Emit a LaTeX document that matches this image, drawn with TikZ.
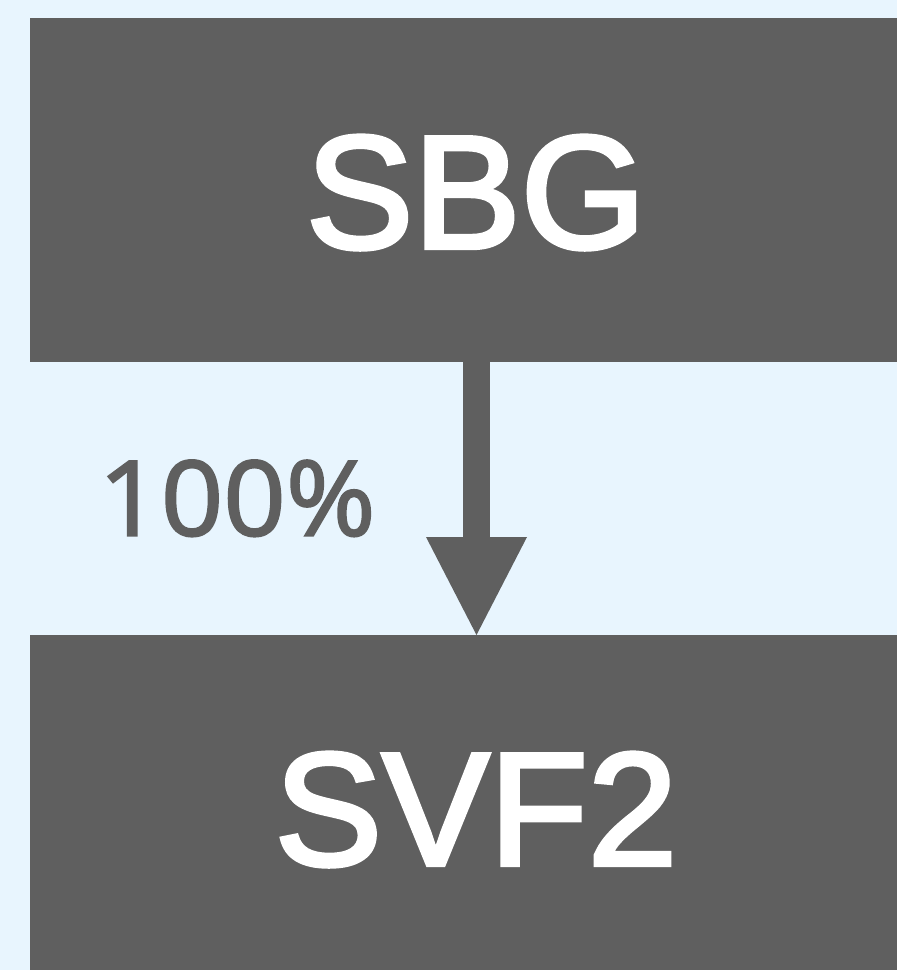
\documentclass[tikz,border=0pt]{standalone}
\usepackage{fontspec}
\setmainfont{Liberation Sans}
\newfontfamily\boxfont[FakeBold=2.7]{Liberation Sans}
\newfontfamily\pctfont[FakeBold=2,FakeStretch=1.05]{Open Sans}
\usetikzlibrary{arrows.meta}
\definecolor{bgblue}{HTML}{E8F5FE}
\definecolor{boxgray}{HTML}{5F5F5F}
\begin{document}
\begin{tikzpicture}[x=1pt,y=-1pt,
  box/.style={fill=boxgray, draw=none, inner sep=0pt, minimum width=867pt},
  boxtext/.style={text=white, font=\boxfont\fontsize{161}{161}\selectfont, anchor=base, inner sep=0pt},
  pct/.style={text=boxgray, font=\pctfont\fontsize{104}{104}\selectfont, anchor=base, inner sep=0pt},
  flow/.style={draw=boxgray, line width=27pt, -{Triangle[width=101pt,length=98pt,line width=0pt]}, fill=boxgray}]
\fill[bgblue] (0,0) rectangle (897,970);
\useasboundingbox (0,0) rectangle (897,970);
\node[box, minimum height=343.5pt] (sbg) at (463.5,189.75) {};
\node[box, minimum height=335pt] (svf) at (463.5,802.5) {};
\node[boxtext] (sbgt) at (476,248) {SBG};
\node[boxtext] (svft) at (476,865) {SVF2};
\coordinate (a1) at (476.5,361.5);
\coordinate (a2) at (476.5,635);
\draw[flow] (a1) -- (a2);
\node[pct] (lab) at (237,535.5) {100\%};
\end{tikzpicture}
\end{document}
